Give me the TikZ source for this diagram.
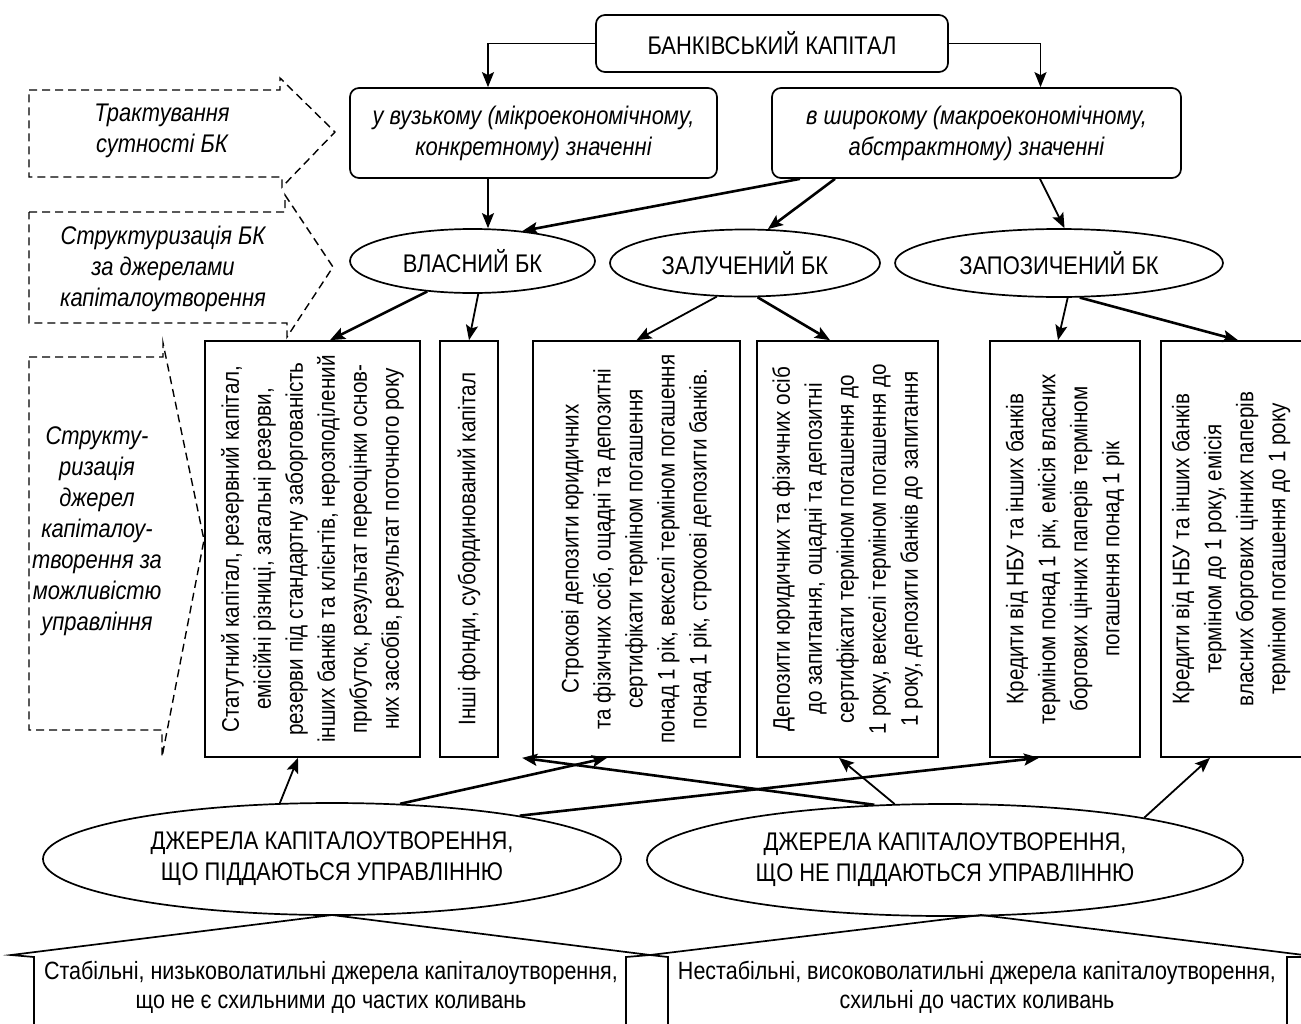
\documentclass[tikz,border=0pt]{standalone}
\usepackage{fontspec}
\setmainfont{Liberation Sans}[FakeStretch=0.86]
\usetikzlibrary{arrows.meta,shapes.geometric}
\newcommand\fsmain{\fontsize{25.5}{31}\selectfont}
\newcommand\fsvert{\fontsize{24}{32}\selectfont}
\newcommand\fsbot{\fontsize{25}{29}\selectfont}
\begin{document}
\begin{tikzpicture}[x=1pt,y=-1pt,
  font=\fsmain,
  box/.style={draw,line width=1.7pt,inner sep=0pt},
  rbox/.style={box,rounded corners=9pt,align=center},
  ell/.style={draw,ellipse,line width=1.7pt,inner sep=0pt,align=center},
  it/.style={font=\fsmain\itshape},
  vtext/.style={rotate=90,align=center,inner sep=0pt,font=\fsvert},
  arr/.style={line width=1.8pt,-{Stealth[length=15pt,width=12pt,inset=3pt]}},
  tarr/.style={arr,line width=2.6pt},
  dsh/.style={line width=1.4pt,dash pattern=on 8pt off 5pt},
  lab/.style={it,align=center,inner sep=0pt},
  house/.style={line width=1.7pt},
  btext/.style={align=center,inner sep=0pt,font=\fsbot}]
\useasboundingbox (0,0) rectangle (1301,1023);
\clip (0,0) rectangle (1301,1023);

% top level
\node[rbox,minimum width=352pt,minimum height=57pt] (top) at (772,43.5) {БАНКІВСЬКИЙ КАПІТАЛ};
\node[rbox,it,minimum width=367pt,minimum height=90pt] (narrow) at (533.5,133) {у вузькому (мікроекономічному,\\ конкретному) значенні};
\node[rbox,it,minimum width=409pt,minimum height=90pt] (wide) at (976.5,133) {в широкому (макроекономічному,\\ абстрактному) значенні};

% ellipses
\node[ell,minimum width=245pt,minimum height=64pt] (vl) at (472.5,261) {ВЛАСНИЙ БК};
\node[ell,minimum width=270pt,minimum height=67pt] (zal) at (745,263) {ЗАЛУЧЕНИЙ БК};
\node[ell,minimum width=328pt,minimum height=68pt] (zap) at (1059,263) {ЗАПОЗИЧЕНИЙ БК};

% vertical boxes
\node[box,minimum width=215pt,minimum height=416pt] (b1) at (312.5,549) {};
\node[vtext] (t1) at (b1) {Статутний капітал, резервний капітал,\\ емісійні різниці, загальні резерви,\\ резерви під стандартну заборгованість\\ інших банків та клієнтів, нерозподілений\\ прибуток, результат переоцінки основ-\\ них засобів, результат поточного року};
\node[box,minimum width=58pt,minimum height=416pt] (b2) at (469,549) {};
\node[vtext] (t2) at (b2) {Інші фонди, субординований капітал};
\node[box,minimum width=207pt,minimum height=416pt] (b3) at (636.5,549) {};
\node[vtext] (t3) at (b3) {Строкові депозити юридичних\\ та фізичних осіб, ощадні та депозитні\\ сертифікати терміном погашення\\ понад 1 рік, векселі терміном погашення\\ понад 1 рік, строкові депозити банків.};
\node[box,minimum width=181pt,minimum height=416pt] (b4) at (847.5,549) {};
\node[vtext] (t4) at (b4) {Депозити юридичних та фізичних осіб\\ до запитання, ощадні та депозитні\\ сертифікати терміном погашення до\\ 1 року, векселі терміном погашення до\\ 1 року, депозити банків до запитання};
\node[box,minimum width=150pt,minimum height=416pt] (b5) at (1065,549) {};
\node[vtext] (t5) at (b5) {Кредити від НБУ та інших банків\\ терміном понад 1 рік, емісія власних\\ боргових цінних паперів терміном\\ погашення понад 1 рік};
\node[box,minimum width=152pt,minimum height=416pt] (b6) at (1237,549) {};
\node[vtext] (t6) at (1231,549) {Кредити від НБУ та інших банків\\ терміном до 1 року, емісія\\ власних боргових цінних паперів\\ терміном погашення до 1 року};

% bottom ellipses
\node[ell,minimum width=578pt,minimum height=112pt] (L) at (332,859) {ДЖЕРЕЛА КАПІТАЛОУТВОРЕННЯ,\\ ЩО ПІДДАЮТЬСЯ УПРАВЛІННЮ};
\node[ell,minimum width=596pt,minimum height=112pt] (R) at (945,860) {ДЖЕРЕЛА КАПІТАЛОУТВОРЕННЯ,\\ ЩО НЕ ПІДДАЮТЬСЯ УПРАВЛІННЮ};

% houses
\draw[house] (34,1030) -- (34,957) -- (11,955) -- (332,915) -- (650,955) -- (626,957) -- (626,1030);
\draw[house] (668,1030) -- (668,957) -- (650,955) -- (981,915) -- (1320,957) -- (1287,957) -- (1287,1030);
\node[btext] (st) at (331,987) {Стабільні, низьковолатильні джерела капіталоутворення,\\ що не є схильними до частих коливань};
\node[btext] (nst) at (977,987) {Нестабільні, високоволатильні джерела капіталоутворення,\\ схильні до частих коливань};

% dashed pointer shapes
\draw[dsh] (29,90) -- (280,90) -- (280,78) -- (335,132) -- (282,187) -- (282,177) -- (29,177) -- cycle;
\node[lab] (l1) at (162,131) {Трактування\\ сутності БК};
\draw[dsh] (29,212) -- (285,212) -- (285,195) -- (333,267) -- (287,337) -- (287,323) -- (29,323) -- cycle;
\node[lab] (l2) at (163,269) {Структуризація БК\\ за джерелами\\ капіталоутворення};
\draw[dsh] (29,357) -- (163,357) -- (163,343) -- (204,540) -- (162,757) -- (162,730) -- (29,730) -- cycle;
\node[lab] (l3) at (97,531) {Структу-\\ ризація\\ джерел\\ капіталоу-\\ творення за\\ можливістю\\ управління};

% connectors top
\draw[arr] (top.west) -| ([xshift=-45.5pt]narrow.north);
\draw[arr] (top.east) -| ([xshift=64pt]wide.north);
\draw[arr] ([xshift=-45.5pt]narrow.south) -- ([xshift=15.5pt]vl.north);
\draw[tarr] ([xshift=-176.5pt]wide.south) -- (vl.31);
\draw[tarr] ([xshift=-141.5pt]wide.south) -- (zal.56);
\draw[arr] ([xshift=63.5pt]wide.south) -- (zap.81);

% ellipses to boxes
\draw[tarr] (vl.214) -- ([xshift=17.5pt]b1.north);
\draw[arr] (vl.-80) -- (b2.north);
\draw[arr] (zal.-130) -- (b3.north);
\draw[tarr] (zal.-70) -- ([xshift=-17.5pt]b4.north);
\draw[arr] (zap.-76) -- ([xshift=-7pt]b5.north);
\draw[tarr] (zap.-59) -- ([xshift=1pt]b6.north);

% bottom ellipses to boxes
\draw[arr] (L.133) -- ([xshift=-14.5pt]b1.south);
\draw[tarr] (L.39) -- ([xshift=-29.5pt]b3.south);
\draw[tarr] (L.13) -- ([xshift=-26pt]b5.south);
\draw[tarr] (R.142) -- ([xshift=-10pt]b3.south west);
\draw[arr] (R.132) -- ([xshift=-8.5pt]b4.south);
\draw[arr] (R.12) -- ([xshift=-27pt]b6.south);
\end{tikzpicture}
\end{document}
